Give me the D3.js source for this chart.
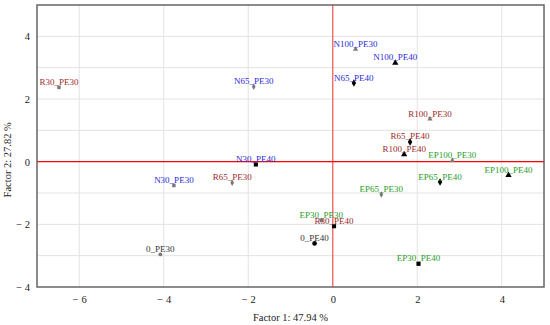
<!DOCTYPE html>
<html>
<head>
<meta charset="utf-8">
<script src="https://cdn.jsdelivr.net/npm/d3@7"></script>
<style>
  body { margin: 0; background: #fff; }
  svg, svg text { font-family: "Liberation Serif", "Times New Roman", serif !important; }
</style>
</head>
<body>
<div id="pca"></div>
<script>
// sample names and factor scores
var names = ["R30_PE30","N100_PE30","N100_PE40","N65_PE30","N65_PE40","R100_PE30","R65_PE40","R100_PE40",
  "EP100_PE30","EP100_PE40","EP65_PE40","EP65_PE30","EP30_PE40","N30_PE30","0_PE30","N30_PE40",
  "R65_PE30","EP30_PE30","R30_PE40","0_PE40"];
var factor1 = [-6.48,0.54,1.48,-1.87,0.50,2.30,1.83,1.69,2.83,4.16,2.54,1.15,2.03,-3.76,-4.08,-1.82,-2.38,-0.27,0.03,-0.43];
var factor2 = [2.37,3.59,3.15,2.39,2.51,1.36,0.63,0.23,0.04,-0.43,-0.65,-1.05,-3.26,-0.76,-2.96,-0.09,-0.67,-1.88,-2.06,-2.61];
var xTicks = [-6,-4,-2,0,2,4];
var yTicks = [-4,-2,0,2,4];

var groupColor = {N: "#2b2bd9", R: "#9b2a2a", EP: "#2a9d2a", "0": "#333333"};

var data = [];
for (var i = 0; i < names.length; i++) {
  var parts = names[i].split("_");
  var m = parts[0].match(/^([A-Z]*)(\d+)$/);
  data.push({
    name: names[i],
    f1: factor1[i],
    f2: factor2[i],
    group: m[1] === "" ? "0" : m[1],
    level: m[1] === "" ? "0" : m[2],
    pe: parts[1]
  });
}

var margin = {top: 5, right: 6, bottom: 38, left: 37},
  width = 550 - margin.left - margin.right,
  height = 325 - margin.top - margin.bottom;

var svg = d3.select("#pca")
  .append("svg")
    .attr("width", 550)
    .attr("height", 325)
  .append("g")
    .attr("transform", "translate(" + margin.left + "," + margin.top + ")");

var x = d3.scaleLinear().domain([-7, 5]).range([0, width]);
var y = d3.scaleLinear().domain([-4, 5]).range([height, 0]);

// grid
svg.append("g")
  .selectAll("line")
  .data(xTicks)
  .enter()
  .append("line")
    .attr("x1", function (d) { return x(d); })
    .attr("x2", function (d) { return x(d); })
    .attr("y1", 0)
    .attr("y2", height)
    .style("stroke", "#e3e3e3");
svg.append("g")
  .selectAll("line")
  .data(d3.range(-3, 5))
  .enter()
  .append("line")
    .attr("x1", 0)
    .attr("x2", width)
    .attr("y1", function (d) { return y(d); })
    .attr("y2", function (d) { return y(d); })
    .style("stroke", "#e3e3e3");

// zero lines
svg.append("line")
  .attr("x1", x(0)).attr("x2", x(0))
  .attr("y1", 0).attr("y2", height)
  .style("stroke", "#ff0000").style("opacity", 0.55).style("stroke-width", 1.4);
svg.append("line")
  .attr("x1", 0).attr("x2", width)
  .attr("y1", y(0)).attr("y2", y(0))
  .style("stroke", "#ff0000").style("stroke-width", 1.2);

// axes (labels only)
function fmt(d) { return d < 0 ? "\u2212 " + Math.abs(d) : String(d); }
var xAxis = svg.append("g")
  .attr("transform", "translate(0," + height + ")")
  .call(d3.axisBottom(x).tickValues(xTicks).tickFormat(fmt).tickSize(0).tickPadding(9));
var yAxis = svg.append("g")
  .call(d3.axisLeft(y).tickValues(yTicks).tickFormat(fmt).tickSize(0).tickPadding(7));
[xAxis, yAxis].forEach(function (a) {
  a.attr("font-family", null);
  a.select(".domain").remove();
  a.selectAll("text")
    .style("font-size", "10.5px")
    .style("fill", "#222");
});

// frame
svg.append("rect")
  .attr("x", 0).attr("y", 0)
  .attr("width", width).attr("height", height)
  .style("fill", "none")
  .style("stroke", "#666")
  .style("stroke-width", 1.5);

// axis titles
svg.append("text")
  .attr("text-anchor", "middle")
  .attr("x", x(-1))
  .attr("y", height + 34)
  .text("Factor 1: 47.94 %")
  .style("font-size", "10.5px")
  .style("fill", "#222");
svg.append("text")
  .attr("text-anchor", "middle")
  .attr("transform", "rotate(-90)")
  .attr("x", -y(0.06))
  .attr("y", -26)
  .text("Factor 2: 27.82 %")
  .style("font-size", "10.5px")
  .style("fill", "#222");

// markers
var shapes = {
  "0": d3.symbolCircle,
  "30": d3.symbolSquare,
  "65": d3.symbolDiamond,
  "100": d3.symbolTriangle
};
svg.append("g")
  .selectAll("path")
  .data(data)
  .enter()
  .append("path")
    .attr("transform", function (d) { return "translate(" + x(d.f1) + "," + y(d.f2) + ")"; })
    .attr("d", function (d) {
      var s = d.pe === "PE40" ? 17 : 12;
      return d3.symbol().type(shapes[d.level]).size(s)();
    })
    .style("fill", function (d) { return d.pe === "PE40" ? "#000" : "#7a7a7a"; });

// labels
svg.append("g")
  .selectAll("text")
  .data(data)
  .enter()
  .append("text")
    .attr("x", function (d) { return x(d.f1); })
    .attr("y", function (d) { return y(d.f2) - 2.5; })
    .attr("text-anchor", "middle")
    .text(function (d) { return d.name; })
    .style("font-size", "9px")
    .style("fill", function (d) { return groupColor[d.group]; });
</script>
</body>
</html>
